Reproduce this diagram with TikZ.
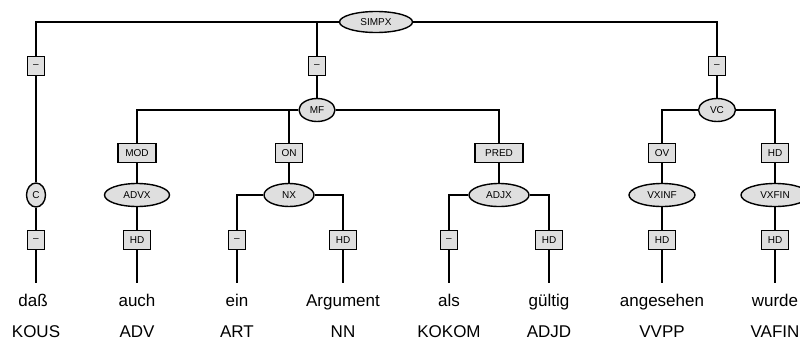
\documentclass[tikz,border=0pt]{standalone}
\usepackage{fontspec}
\setmainfont{Liberation Sans}
\usetikzlibrary{shapes.geometric}
\definecolor{nodefill}{HTML}{DFDFDF}
\tikzset{
  every picture/.style={x=1pt,y=-1pt},
  edge/.style={line width=1.4pt},
  cat/.style={ellipse,draw,line width=1.4pt,fill=nodefill,inner sep=0pt,
    minimum height=23pt,font=\fontsize{10}{12}\selectfont},
  fn/.style={rectangle,draw,line width=1.4pt,fill=nodefill,inner xsep=6pt,inner ysep=0pt,
    minimum height=19pt,minimum width=16pt,font=\fontsize{10}{12}\selectfont},
  word/.style={inner sep=0pt,anchor=base,text height=12pt,text depth=4pt,
    font=\fontsize{17}{20}\selectfont},
  tag/.style={inner sep=0pt,anchor=base,font=\fontsize{17}{20}\selectfont}
}
\begin{document}
\begin{tikzpicture}
\useasboundingbox (0,0) rectangle (800,340);
\clip (0,0) rectangle (800,340);
% top level
\node[cat,minimum width=73pt,minimum height=21pt] (simpx) at (376,22) {SIMPX};
\node[fn] (d1) at (36,66) {–};
\node[fn] (d2) at (317,66) {–};
\node[fn] (d3) at (717,66) {–};
% second level
\node[cat,minimum width=36pt] (mf) at (317,110) {MF};
\node[cat,minimum width=37pt] (vc) at (717,110) {VC};
\node[fn,minimum width=38pt] (mod) at (137,153) {MOD};
\node[fn] (on) at (289,153) {ON};
\node[fn,minimum width=48pt] (pred) at (499,153) {PRED};
\node[fn] (ov) at (662,153) {OV};
\node[fn] (hdvc) at (775,153) {HD};
% third level
\node[cat,minimum width=19pt,minimum height=24pt] (c) at (36,195) {C};
\node[cat,minimum width=65pt] (advx) at (137,195) {ADVX};
\node[cat,minimum width=50pt] (nx) at (289,195) {NX};
\node[cat,minimum width=60pt] (adjx) at (499,195) {ADJX};
\node[cat,minimum width=66pt] (vxinf) at (662,195) {VXINF};
\node[cat,minimum width=68pt] (vxfin) at (775,195) {VXFIN};
% lowest functions
\node[fn] (dc) at (36,240) {–};
\node[fn] (hdadv) at (137,240) {HD};
\node[fn] (dnx) at (237,240) {–};
\node[fn] (hdnx) at (343,240) {HD};
\node[fn] (dadj) at (449,240) {–};
\node[fn] (hdadj) at (549,240) {HD};
\node[fn] (hdinf) at (662,240) {HD};
\node[fn] (hdfin) at (775,240) {HD};
% words
\node[word] (w1) at (33,306) {daß};
\node[word] (w2) at (137,306) {auch};
\node[word] (w3) at (237,306) {ein};
\node[word] (w4) at (343,306) {Argument};
\node[word] (w5) at (449,306) {als};
\node[word] (w6) at (549,306) {gültig};
\node[word] (w7) at (662,306) {angesehen};
\node[word] (w8) at (775,306) {wurde};
% tags
\node[tag] (t1) at (36,337) {KOUS};
\node[tag] (t2) at (137,337) {ADV};
\node[tag] (t3) at (237,337) {ART};
\node[tag] (t4) at (343,337) {NN};
\node[tag] (t5) at (449,337) {KOKOM};
\node[tag] (t6) at (549,337) {ADJD};
\node[tag] (t7) at (662,337) {VVPP};
\node[tag] (t8) at (775,337) {VAFIN};
% edges
\begin{scope}[edge]
\draw (simpx.west) -| (d1.north);
\draw (d2.north) -- (d2 |- simpx);
\draw (simpx.east) -| (d3.north);
\draw (d1.south) -- (c.north);
\draw (d2.south) -- (mf.north);
\draw (d3.south) -- (vc.north);
\draw (mf.west) -| (mod.north);
\draw (on.north) -- (on |- mf);
\draw (mf.east) -| (pred.north);
\draw (vc.west) -| (ov.north);
\draw (vc.east) -| (hdvc.north);
\draw (mod.south) -- (advx.north);
\draw (on.south) -- (nx.north);
\draw (pred.south) -- (adjx.north);
\draw (ov.south) -- (vxinf.north);
\draw (hdvc.south) -- (vxfin.north);
\draw (c.south) -- (dc.north);
\draw (advx.south) -- (hdadv.north);
\draw (nx.west) -| (dnx.north);
\draw (nx.east) -| (hdnx.north);
\draw (adjx.west) -| (dadj.north);
\draw (adjx.east) -| (hdadj.north);
\draw (vxinf.south) -- (hdinf.north);
\draw (vxfin.south) -- (hdfin.north);
\draw (dc.south) -- ([yshift=11pt]dc.south |- w1.north);
\draw (hdadv.south) -- ([yshift=11pt]w2.north);
\draw (dnx.south) -- ([yshift=11pt]w3.north);
\draw (hdnx.south) -- ([yshift=11pt]w4.north);
\draw (dadj.south) -- ([yshift=11pt]w5.north);
\draw (hdadj.south) -- ([yshift=11pt]w6.north);
\draw (hdinf.south) -- ([yshift=11pt]w7.north);
\draw (hdfin.south) -- ([yshift=11pt]w8.north);
\end{scope}
\end{tikzpicture}
\end{document}
